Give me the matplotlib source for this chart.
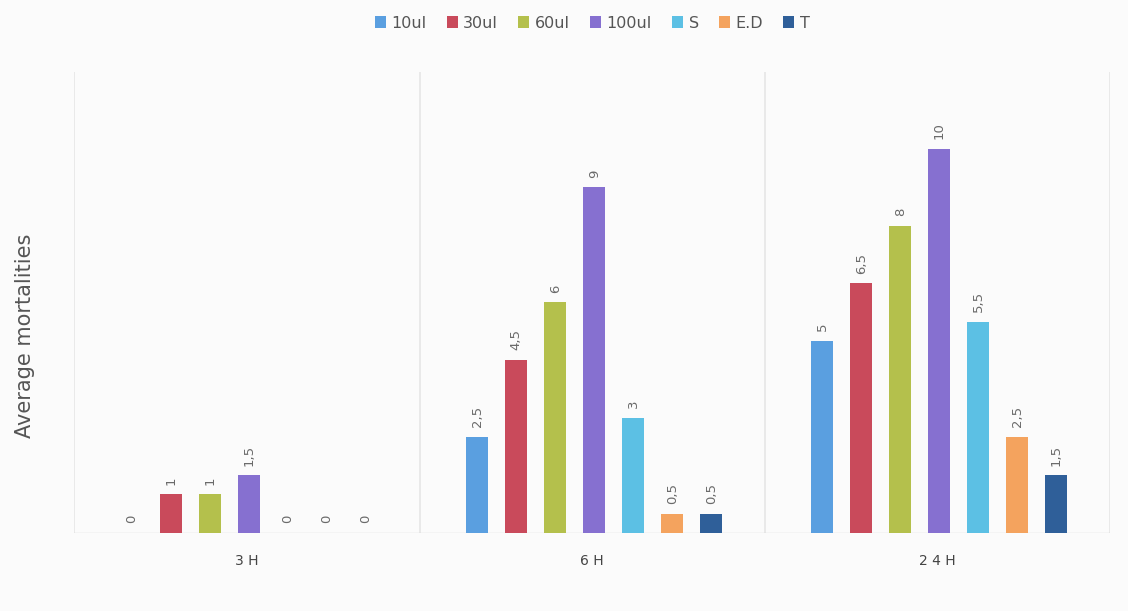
import matplotlib

matplotlib.use("Agg")
import matplotlib.pyplot as plt
from matplotlib.patches import Patch
import numpy as np

# mortality averages per exposure time and treatment
times = ["3 H", "6 H", "2 4 H"]
treatments = ["10ul", "30ul", "60ul", "100ul", "S", "E.D", "T"]
v_10ul = [0, 2.5, 5]
v_30ul = [1, 4.5, 6.5]
v_60ul = [1, 6, 8]
v_100ul = [1.5, 9, 10]
v_s = [0, 3, 5.5]
v_ed = [0, 0.5, 2.5]
v_t = [0, 0.5, 1.5]
series = [v_10ul, v_30ul, v_60ul, v_100ul, v_s, v_ed, v_t]

colors = ["#5a9fe0", "#c94a5b", "#b4c04c", "#8670d0", "#5cc0e4", "#f4a35e", "#2f5f99"]

fig = plt.figure(figsize=(11.28, 6.11), dpi=100, facecolor="#fbfbfb")
ax = fig.add_axes([0.066, 0.128, 0.918, 0.754])
ax.set_facecolor("#fbfbfb")

x = np.arange(len(times))
step = 0.113
width = 0.064
for i, (vals, col, name) in enumerate(zip(series, colors, treatments)):
    pos = x + 0.006 + (i - 3) * step
    ax.bar(pos, vals, width=width, color=col, zorder=3)
    for px, v in zip(pos, vals):
        txt = f"{v:g}".replace(".", ",")
        ax.text(px, v + 0.25, txt, rotation=90, ha="center", va="bottom",
                fontsize=9.5, color="#6a6a6a", zorder=4)

# faint panel separators and baseline
for sep in [-0.5, 0.5, 1.5, 2.5]:
    ax.axvline(sep, color="#e6e6e6", linewidth=1.2, zorder=1)
ax.axhline(0, color="#d8d8d8", linewidth=1.0, zorder=2)

ax.set_xlim(-0.5, 2.5)
ax.set_ylim(0, 12)
ax.set_xticks(x)
ax.set_xticklabels(times, fontsize=10, color="#444444")
ax.tick_params(axis="x", length=0, pad=15)
ax.set_yticks([])
for s in ax.spines.values():
    s.set_visible(False)

fig.text(0.022, 0.45, "Average mortalities", rotation=90, ha="center", va="center",
         fontsize=15, color="#555555")

handles = [Patch(facecolor=c, edgecolor="none") for c in colors]
fig.legend(handles, treatments, loc="upper center", bbox_to_anchor=(0.525, 0.998),
           ncol=7, frameon=False, fontsize=11.5, handlelength=0.7, handleheight=0.7,
           handletextpad=0.35, columnspacing=1.25, labelcolor="#555555")

fig.savefig("out.png", dpi=100, facecolor=fig.get_facecolor())
